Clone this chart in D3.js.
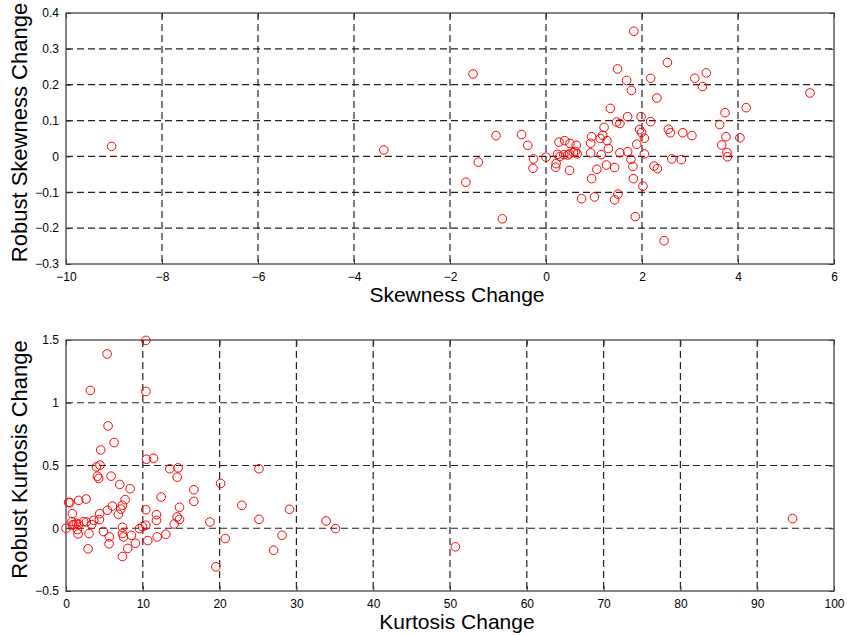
<!DOCTYPE html>
<html>
<head>
<meta charset="utf-8">
<script src="https://cdn.jsdelivr.net/npm/d3@7"></script>
<style>
  body { margin: 0; background: #fff; }
  svg { display: block; font-family: "Liberation Sans", Arial, sans-serif; }
</style>
</head>
<body>
<svg id="chart" width="847" height="635"></svg>
<script>
// top panel: skewness change vs robust skewness change
const skewX = [1.83, -1.52, 2.53, 1.49, 1.68, 2.18, 1.78, 3.10, 3.34, 3.26, 2.31, 5.50, 1.34, 4.17, 3.73,
  1.70, 1.98, 1.47, 1.54, 2.18, 3.62, 1.21, 1.95, 1.99, 2.55, 2.59, 2.85, 3.04, 4.04, 3.75,
  -1.04, -0.51, -0.38, 0.95, 1.18, 1.13, 1.27, 0.93, 1.30, 2.05, 1.89, 0.27, 0.39, 0.50, 0.63,
  3.66, -0.26, 0.00, -0.27, -1.41, -1.67, -0.91, 0.24, 0.29, 0.37, 0.45, 0.49, 0.57, 0.65, 0.61,
  0.21, 0.20, 0.49, 0.93, 1.15, 1.54, 1.70, 2.05, 1.77, 1.81, 1.26, 1.43, 1.06, 0.95, 1.82,
  2.02, 2.25, 2.32, 2.62, 2.82, 3.77, 3.78, 0.74, 1.01, 1.50, 1.43, 1.86, 2.46, -9.05, -3.38];
const skewY = [0.349, 0.230, 0.262, 0.244, 0.212, 0.218, 0.184, 0.218, 0.233, 0.195, 0.163, 0.177, 0.134, 0.136, 0.122,
  0.111, 0.111, 0.096, 0.092, 0.097, 0.089, 0.081, 0.075, 0.067, 0.076, 0.066, 0.066, 0.058, 0.052, 0.055,
  0.058, 0.061, 0.031, 0.055, 0.059, 0.050, 0.044, 0.037, 0.022, 0.051, 0.034, 0.040, 0.044, 0.036, 0.031,
  0.032, -0.007, -0.002, -0.033, -0.016, -0.072, -0.174, 0.006, 0.000, 0.005, 0.004, 0.007, 0.011, 0.007, 0.014,
  -0.020, -0.030, -0.039, 0.010, 0.005, 0.010, 0.013, 0.007, -0.008, -0.028, -0.024, -0.031, -0.036, -0.062, -0.062,
  -0.083, -0.027, -0.034, -0.007, -0.009, 0.011, -0.001, -0.118, -0.113, -0.105, -0.121, -0.168, -0.235, 0.028, 0.018];

// bottom panel: kurtosis change vs robust kurtosis change
const kurtX = [10.4, 5.35, 3.17, 10.4, 5.48, 6.26, 4.52, 10.48, 11.39, 3.96, 4.43, 4.09, 4.26, 5.87, 13.52,
  14.6, 14.48, 25.13, 7.0, 8.35, 20.13, 16.65, 16.65, 12.39, 22.9, 29.1, 0.35, 0.52, 1.65, 2.61,
  7.7, 7.35, 7.13, 6.83, 6.04, 5.39, 4.39, 3.61, 0.83, 10.39, 11.78, 11.78, 14.78, 14.48, 14.78,
  14.09, 18.74, 25.13, 33.87, 35.1, 0.0, 0.78, 1.04, 1.35, 1.65, 2.3, 2.65, 3.35, 4.35, 1.48,
  1.57, 3.0, 4.87, 5.65, 5.61, 2.87, 7.35, 7.35, 7.48, 8.52, 8.04, 9.04, 7.35, 9.57, 9.96,
  10.39, 10.65, 11.87, 13.0, 20.74, 19.52, 27.04, 28.13, 50.7, 94.6, 0.83];
const kurtY = [1.497, 1.389, 1.098, 1.090, 0.815, 0.683, 0.624, 0.550, 0.558, 0.489, 0.503, 0.415, 0.397, 0.415, 0.474,
  0.481, 0.407, 0.474, 0.349, 0.315, 0.357, 0.307, 0.214, 0.249, 0.183, 0.151, 0.206, 0.204, 0.222, 0.233,
  0.228, 0.183, 0.153, 0.111, 0.177, 0.143, 0.116, 0.063, 0.116, 0.148, 0.108, 0.063, 0.167, 0.090, 0.071,
  0.034, 0.050, 0.071, 0.058, -0.003, 0.000, 0.053, 0.029, 0.040, 0.029, 0.053, 0.050, 0.029, 0.069, -0.011,
  -0.045, -0.042, -0.026, -0.069, -0.124, -0.164, 0.008, -0.042, -0.069, -0.056, -0.161, -0.119, -0.225, -0.003, 0.013,
  0.024, -0.098, -0.069, -0.048, -0.082, -0.307, -0.175, -0.056, -0.148, 0.077, 0.026];

const skewXTicks = [-10, -8, -6, -4, -2, 0, 2, 4, 6];
const skewYTicks = [-0.3, -0.2, -0.1, 0, 0.1, 0.2, 0.3, 0.4];
const kurtXTicks = [0, 10, 20, 30, 40, 50, 60, 70, 80, 90, 100];
const kurtYTicks = [-0.5, 0, 0.5, 1, 1.5];

const svg = d3.select('#chart');

function panel(opts) {
    const x = d3.scaleLinear().domain(opts.xDomain).range([opts.left, opts.right]);
    const y = d3.scaleLinear().domain(opts.yDomain).range([opts.bottom, opts.top]);
    const g = svg.append('g');

    // dashed grid
    g.append('g').selectAll('line.vx')
        .data(opts.xTicks.slice(1, -1))
        .join('line')
        .attr('x1', d => x(d)).attr('x2', d => x(d))
        .attr('y1', opts.top).attr('y2', opts.bottom)
        .attr('stroke', '#222').attr('stroke-width', 1.2)
        .attr('stroke-dasharray', '7,4');
    g.append('g').selectAll('line.hy')
        .data(opts.yTicks.slice(1, -1))
        .join('line')
        .attr('x1', opts.left).attr('x2', opts.right)
        .attr('y1', d => y(d)).attr('y2', d => y(d))
        .attr('stroke', '#222').attr('stroke-width', 1.2)
        .attr('stroke-dasharray', '7,4');

    // axes with inward ticks
    const fmt = d => d3.format('')(+d.toFixed(2));
    g.append('g').attr('transform', `translate(0,${opts.bottom})`)
        .call(d3.axisBottom(x).tickValues(opts.xTicks).tickSizeInner(-5).tickSizeOuter(0).tickPadding(8).tickFormat(fmt))
        .call(a => a.select('.domain').remove());
    g.append('g').attr('transform', `translate(${opts.left},0)`)
        .call(d3.axisLeft(y).tickValues(opts.yTicks).tickSizeInner(-5).tickSizeOuter(0).tickPadding(7).tickFormat(fmt))
        .call(a => a.select('.domain').remove());
    g.append('g').attr('transform', `translate(0,${opts.top})`)
        .call(d3.axisTop(x).tickValues(opts.xTicks).tickSizeInner(-5).tickSizeOuter(0).tickFormat(''))
        .call(a => a.select('.domain').remove());
    g.append('g').attr('transform', `translate(${opts.right},0)`)
        .call(d3.axisRight(y).tickValues(opts.yTicks).tickSizeInner(-5).tickSizeOuter(0).tickFormat(''))
        .call(a => a.select('.domain').remove());
    g.selectAll('.tick line').attr('stroke', '#333');
    g.selectAll('.tick text').attr('font-size', 12).attr('fill', '#000')
        .attr('font-family', '"Liberation Sans Narrow", "Liberation Sans", Arial, sans-serif');

    // frame
    g.append('rect')
        .attr('x', opts.left).attr('y', opts.top)
        .attr('width', opts.right - opts.left).attr('height', opts.bottom - opts.top)
        .attr('fill', 'none').attr('stroke', '#444').attr('stroke-width', 1.3);

    // points
    g.append('g').selectAll('circle')
        .data(opts.xs.map((v, i) => [v, opts.ys[i]]))
        .join('circle')
        .attr('cx', d => x(d[0])).attr('cy', d => y(d[1]))
        .attr('r', 4.3)
        .attr('fill', 'none').attr('stroke', '#f00').attr('stroke-width', 1);

    // titles
    g.append('text')
        .attr('x', (opts.left + opts.right) / 2 + 7).attr('y', opts.bottom + 38)
        .attr('text-anchor', 'middle').attr('font-size', 21)
        .text(opts.xTitle);
    g.append('text')
        .attr('transform', `translate(27,${(opts.top + opts.bottom) / 2 - 6}) rotate(-90)`)
        .attr('text-anchor', 'middle').attr('font-size', 22)
        .text(opts.yTitle);
}

panel({
    xs: skewX, ys: skewY,
    xDomain: [-10, 6], yDomain: [-0.3, 0.4],
    xTicks: skewXTicks, yTicks: skewYTicks,
    left: 66, right: 834, top: 13, bottom: 264,
    xTitle: 'Skewness Change', yTitle: 'Robust Skewness Change'
});

panel({
    xs: kurtX, ys: kurtY,
    xDomain: [0, 100], yDomain: [-0.5, 1.5],
    xTicks: kurtXTicks, yTicks: kurtYTicks,
    left: 66, right: 834, top: 340, bottom: 591,
    xTitle: 'Kurtosis Change', yTitle: 'Robust Kurtosis Change'
});
</script>
</body>
</html>
